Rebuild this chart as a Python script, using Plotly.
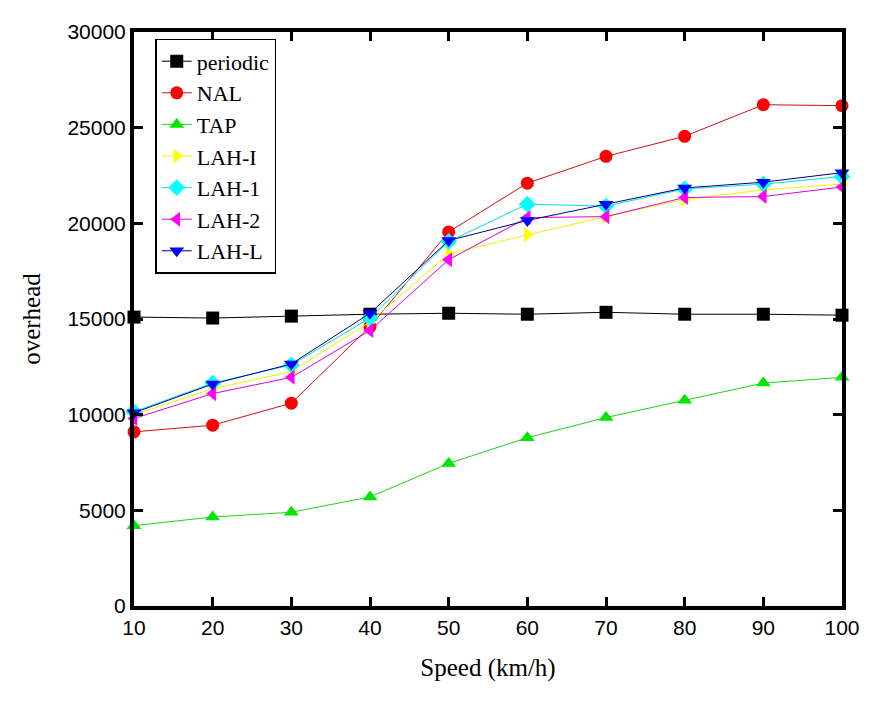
import plotly.graph_objects as go

# Speed values (km/h)
speed = [10, 20, 30, 40, 50, 60, 70, 80, 90, 100]

# overhead per scheme
periodic = [15100, 15050, 15150, 15250, 15300, 15250, 15350, 15250, 15250, 15200]
nal = [9100, 9450, 10600, 14600, 19550, 22100, 23500, 24550, 26200, 26150]
tap = [4200, 4650, 4900, 5700, 7450, 8800, 9850, 10750, 11650, 11950]
lah_i = [10000, 11350, 12250, 14850, 18400, 19400, 20350, 21250, 21750, 22050]
lah_1 = [10150, 11650, 12600, 15050, 19050, 21000, 20900, 21800, 22050, 22450]
lah_2 = [9800, 11100, 11950, 14400, 18100, 20300, 20350, 21350, 21400, 21900]
lah_l = [10100, 11600, 12650, 15300, 19100, 20150, 21000, 21850, 22150, 22650]

# name, values, marker symbol, marker colour, line colour
series = [
    ("periodic", periodic, "square", "#000000", "#000000"),
    ("NAL", nal, "circle", "#ff0000", "#d01010"),
    ("TAP", tap, "triangle-up", "#00e600", "#20d020"),
    ("LAH-I", lah_i, "triangle-right", "#ffff00", "#f0f000"),
    ("LAH-1", lah_1, "diamond", "#00ffff", "#00e0e0"),
    ("LAH-2", lah_2, "triangle-left", "#ff00ff", "#e000e0"),
    ("LAH-L", lah_l, "triangle-down", "#0000ff", "#000080"),
]

fig = go.Figure()
for name, vals, sym, mcol, lcol in series:
    fig.add_trace(go.Scatter(
        x=speed, y=vals, name=name, mode="lines+markers",
        line=dict(color=lcol, width=1),
        marker=dict(symbol=sym, color=mcol, size=13, line=dict(width=0)),
        cliponaxis=False,
    ))

axis_common = dict(
    showline=True, linecolor="black", linewidth=4, mirror="ticks",
    ticks="inside", ticklen=9, tickwidth=3, tickcolor="black",
    showgrid=False, zeroline=False,
    tickfont=dict(family="Liberation Sans", size=21, color="black"),
)

# the page body has an 8px margin, so the figure is a bit smaller than the window
fig.update_layout(
    width=864, height=686,
    margin=dict(l=126, r=29, t=20, b=88),
    paper_bgcolor="white", plot_bgcolor="white",
    xaxis=dict(range=[10, 100], dtick=10,
               title=dict(text="Speed (km/h)", standoff=21,
                          font=dict(family="Liberation Serif", size=25, color="black")),
               **axis_common),
    yaxis=dict(range=[0, 30000], dtick=5000, tickformat="d",
               title=dict(text="overhead", standoff=21,
                          font=dict(family="Liberation Serif", size=25, color="black")),
               **axis_common),
    legend=dict(
        x=0.03, y=0.988, xanchor="left", yanchor="top",
        bgcolor="white", bordercolor="black", borderwidth=1.5,
        font=dict(family="Liberation Serif", size=22, color="black"),
        tracegroupgap=0, itemsizing="trace",
    ),
)

fig.write_html("out.html")
